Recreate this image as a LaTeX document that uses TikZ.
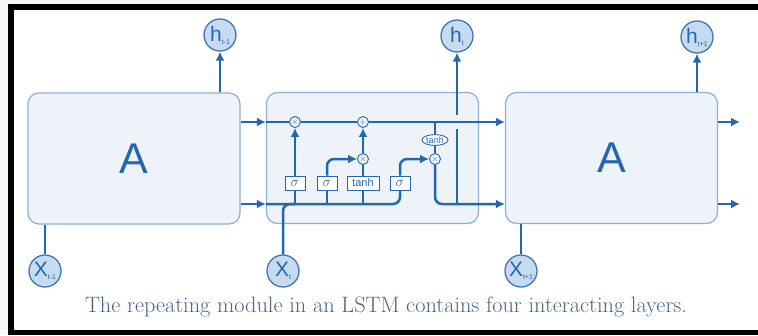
\documentclass[tikz,border=0pt]{standalone}
\usepackage{fontspec}
\newfontfamily\diagfont{Liberation Sans}
\usetikzlibrary{arrows.meta,calc,positioning,shapes.geometric}

\definecolor{flowblue}{HTML}{2467AE}
\definecolor{cellfill}{HTML}{EEF3FA}
\definecolor{celledge}{HTML}{8DB0D4}
\definecolor{iofill}{HTML}{C6DBEF}
\definecolor{ioedge}{HTML}{3E77B4}
\definecolor{captioncol}{HTML}{4A6586}

\begin{document}
\begin{tikzpicture}[x=1pt,y=-1pt,
    cell/.style={
    % The shape:
    rectangle,rounded corners=11pt,
    minimum width=212pt,minimum height=131pt,
    % The rest
    line width=1.2pt,draw=celledge,fill=cellfill,
    text=flowblue,font=\diagfont\fontsize{43}{43}\selectfont},
    io/.style={
    circle,minimum size=32pt,inner sep=0pt,
    line width=1.3pt,draw=ioedge,fill=iofill,
    text=flowblue,font=\diagfont\fontsize{21}{21}\selectfont},
    gate/.style={
    rectangle,minimum width=20pt,minimum height=14pt,inner sep=1pt,
    line width=0.9pt,draw=flowblue,fill=white,
    text=flowblue,font=\diagfont\fontsize{11}{11}\selectfont},
    op/.style={
    circle,minimum size=11pt,inner sep=0pt,
    line width=0.9pt,draw=flowblue,fill=cellfill,
    text=flowblue,font=\fontsize{8}{8}\selectfont},
    wire/.style={line width=2.5pt,draw=flowblue},
    flow/.style={wire,-{Latex[length=9pt,width=9pt]}}]

    % frame of the screenshot
    \fill[gray!6] (0,0) rectangle (758,335);
    \fill[white] (14,10) rectangle (758,330);
    \fill[black] (8,4) rectangle (758,10);
    \fill[black] (8,4) rectangle (14,335);
    \fill[black] (8,330) rectangle (758,335);

    % the three cells
    \node (cellA) [cell] at (134,158.5) {A};
    \node (cellB) [cell] at (372.5,158) {};
    \node (cellC) [cell] at (611.5,158) {A};

    % inputs and outputs
    \node (hprev) [io] at (220,35) {h\raisebox{-3pt}{\fontsize{7}{7}\selectfont t-1}};
    \node (hcur) [io] at (457,36) {h\raisebox{-3pt}{\fontsize{7}{7}\selectfont t}};
    \node (hnext) [io] at (697,37) {h\raisebox{-3pt}{\fontsize{7}{7}\selectfont t+1}};
    \node (xprev) [io] at (45,271) {X\raisebox{-3pt}{\fontsize{7}{7}\selectfont t-1}};
    \node (xcur) [io] at (283,271) {X\raisebox{-3pt}{\fontsize{7}{7}\selectfont t}};
    \node (xnext) [io] at (521,271) {X\raisebox{-3pt}{\fontsize{7}{7}\selectfont t+1}};

    % layers and pointwise operations
    \node (fmul) [op] at (295,122) {$\times$};
    \node (add) [op] at (363,122) {$+$};
    \node (imul) [op] at (363,159) {$\times$};
    \node (omul) [op] at (435,159) {$\times$};
    \node (sigf) [gate] at (295,183) {\fontsize{14}{14}\selectfont$\sigma$};
    \node (sigi) [gate] at (327,183) {\fontsize{14}{14}\selectfont$\sigma$};
    \node (tanhc) [gate,minimum width=32pt] at (363,183) {tanh};
    \node (sigo) [gate] at (400,183) {\fontsize{14}{14}\selectfont$\sigma$};
    \node (tanho) [ellipse,line width=0.9pt,draw=flowblue,fill=white,inner sep=0.5pt,
        text=flowblue,font=\diagfont\fontsize{9}{9}\selectfont] at (435,140) {tanh};

    \coordinate (low) at (283,204);
    \coordinate (outA) at (740,122);
    \coordinate (outB) at (740,204);

    % outputs up and inputs from below
    \draw[flow] (cellA.north -| hprev) -- (hprev);
    \draw[flow] (cellC.north -| hnext) -- (hnext);
    \draw[wire] (xprev) -- (cellA.south -| xprev);
    \draw[wire] (xnext) -- (cellC.south -| xnext);
    \draw[flow] (hcur |- low) -- (hcur);
    \fill[cellfill] ($(hcur |- add)+(-2,-7)$) rectangle ($(hcur |- add)+(2,7)$);

    % cell state
    \draw[flow] (cellA.east |- add) -- (cellB.west |- add);
    \draw[wire] (cellB.west |- add) -- (fmul);
    \draw[wire] (fmul) -- (add);
    \draw[flow] (add) -- (cellC.west |- add);
    \draw[flow] (cellC.east |- add) -- (outA);

    % hidden state
    \draw[flow] (cellA.east |- low) -- (cellB.west |- low);
    \draw[wire,rounded corners=7pt] (cellB.west |- low) -| (sigo);
    \draw[wire,rounded corners=7pt] (xcur) |- (sigf |- low);
    \draw[wire] (sigf |- low) -- (sigf);
    \draw[wire] (sigi |- low) -- (sigi);
    \draw[wire] (tanhc |- low) -- (tanhc);
    \draw[flow] (sigf) -- (fmul);
    \draw[flow,rounded corners=7pt] (sigi) |- (imul);
    \draw[wire] (tanhc) -- (imul);
    \draw[flow] (imul) -- (add);
    \draw[flow,rounded corners=7pt] (sigo) |- (omul);
    \draw[wire] (tanho |- add) -- (tanho);
    \draw[wire] (tanho) -- (omul);
    \draw[flow,rounded corners=7pt] (omul) |- (cellC.west |- low);
    \draw[flow] (cellC.east |- low) -- (outB);

    \node (caption) [text=captioncol,font=\fontsize{22.3}{26}\selectfont] at (386,307)
        {The repeating module in an LSTM contains four interacting layers.};
\end{tikzpicture}
\end{document}
